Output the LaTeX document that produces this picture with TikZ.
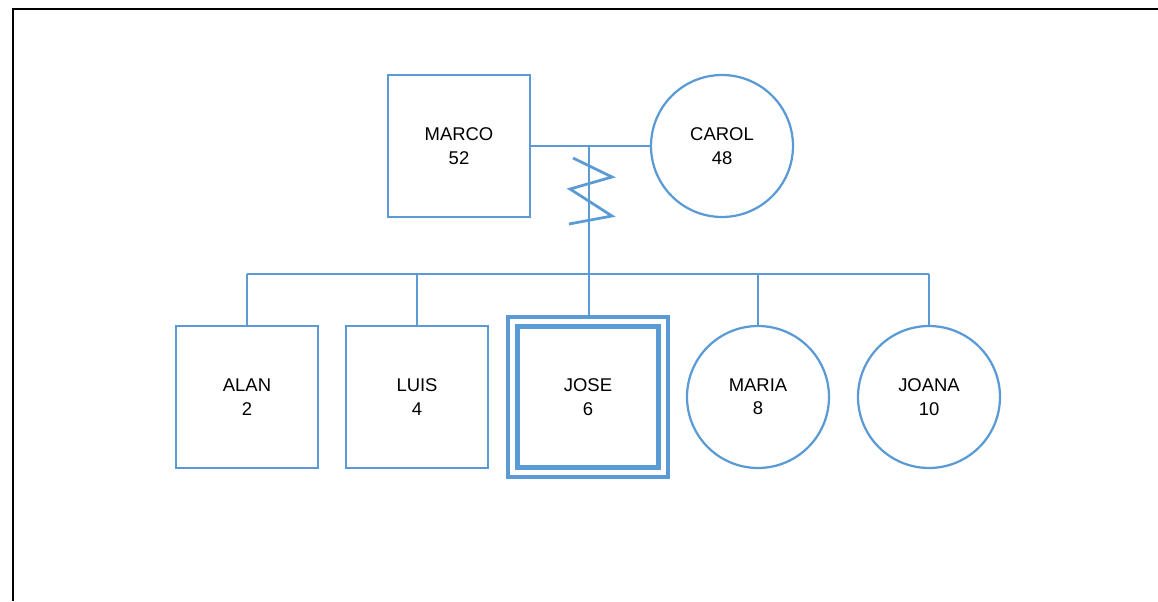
\documentclass[tikz,border=0pt]{standalone}
\usepackage{fontspec}
\setmainfont{Liberation Sans}
\usetikzlibrary{calc}
\definecolor{kinblue}{HTML}{5B9BD5}
\tikzset{
  kin/.style={draw=kinblue, line width=0.045cm},
  male/.style={kin, rectangle, minimum size=2.84cm, inner sep=0pt, align=center,
    font=\fontsize{10.5}{13.3}\selectfont},
  female/.style={kin, circle, minimum size=2.84cm, inner sep=0pt, align=center,
    font=\fontsize{10.5}{13.3}\selectfont},
  index/.style={male, line width=0.085cm, double=white, double distance=0.11cm, minimum size=3.02cm}
}
\begin{document}
\begin{tikzpicture}[x=0.02cm, y=-0.02cm]
\useasboundingbox (0,0) rectangle (1158,601);
% frame
\draw[line width=0.04cm] (13,601) -- (13,9) -- (1158,9);
% parents
\node[male] (marco) at (459,146) {MARCO\\52};
\node[female] (carol) at (722,146) {CAROL\\48};
\draw[kin] (marco) -- (carol);
\coordinate (mid) at (589,146);
\coordinate (sib) at (589,274);
% conflict zigzag
\draw[kin, line width=0.055cm] ($(mid)+(-16,12)$) -- ++(39,19) -- ++(-42,12) -- ++(42,27) -- ++(-43,8);
% children
\foreach \x/\name/\lab/\age/\kind in {247/alan/ALAN/2/male,417/luis/LUIS/4/male,
    758/maria/MARIA/8/female,929/joana/JOANA/10/female} {
  \node[\kind] (\name) at (\x,397) {\lab\\\age};
}
\node[index] (jose) at (588,397) {JOSE\\6};
\draw[kin] (mid) -- (sib) -- (sib |- jose.north);
\draw[kin] (alan |- sib) -- (joana |- sib);
\foreach \name in {alan,luis,maria,joana} {
  \draw[kin] (\name |- sib) -- (\name);
}
\end{tikzpicture}
\end{document}
